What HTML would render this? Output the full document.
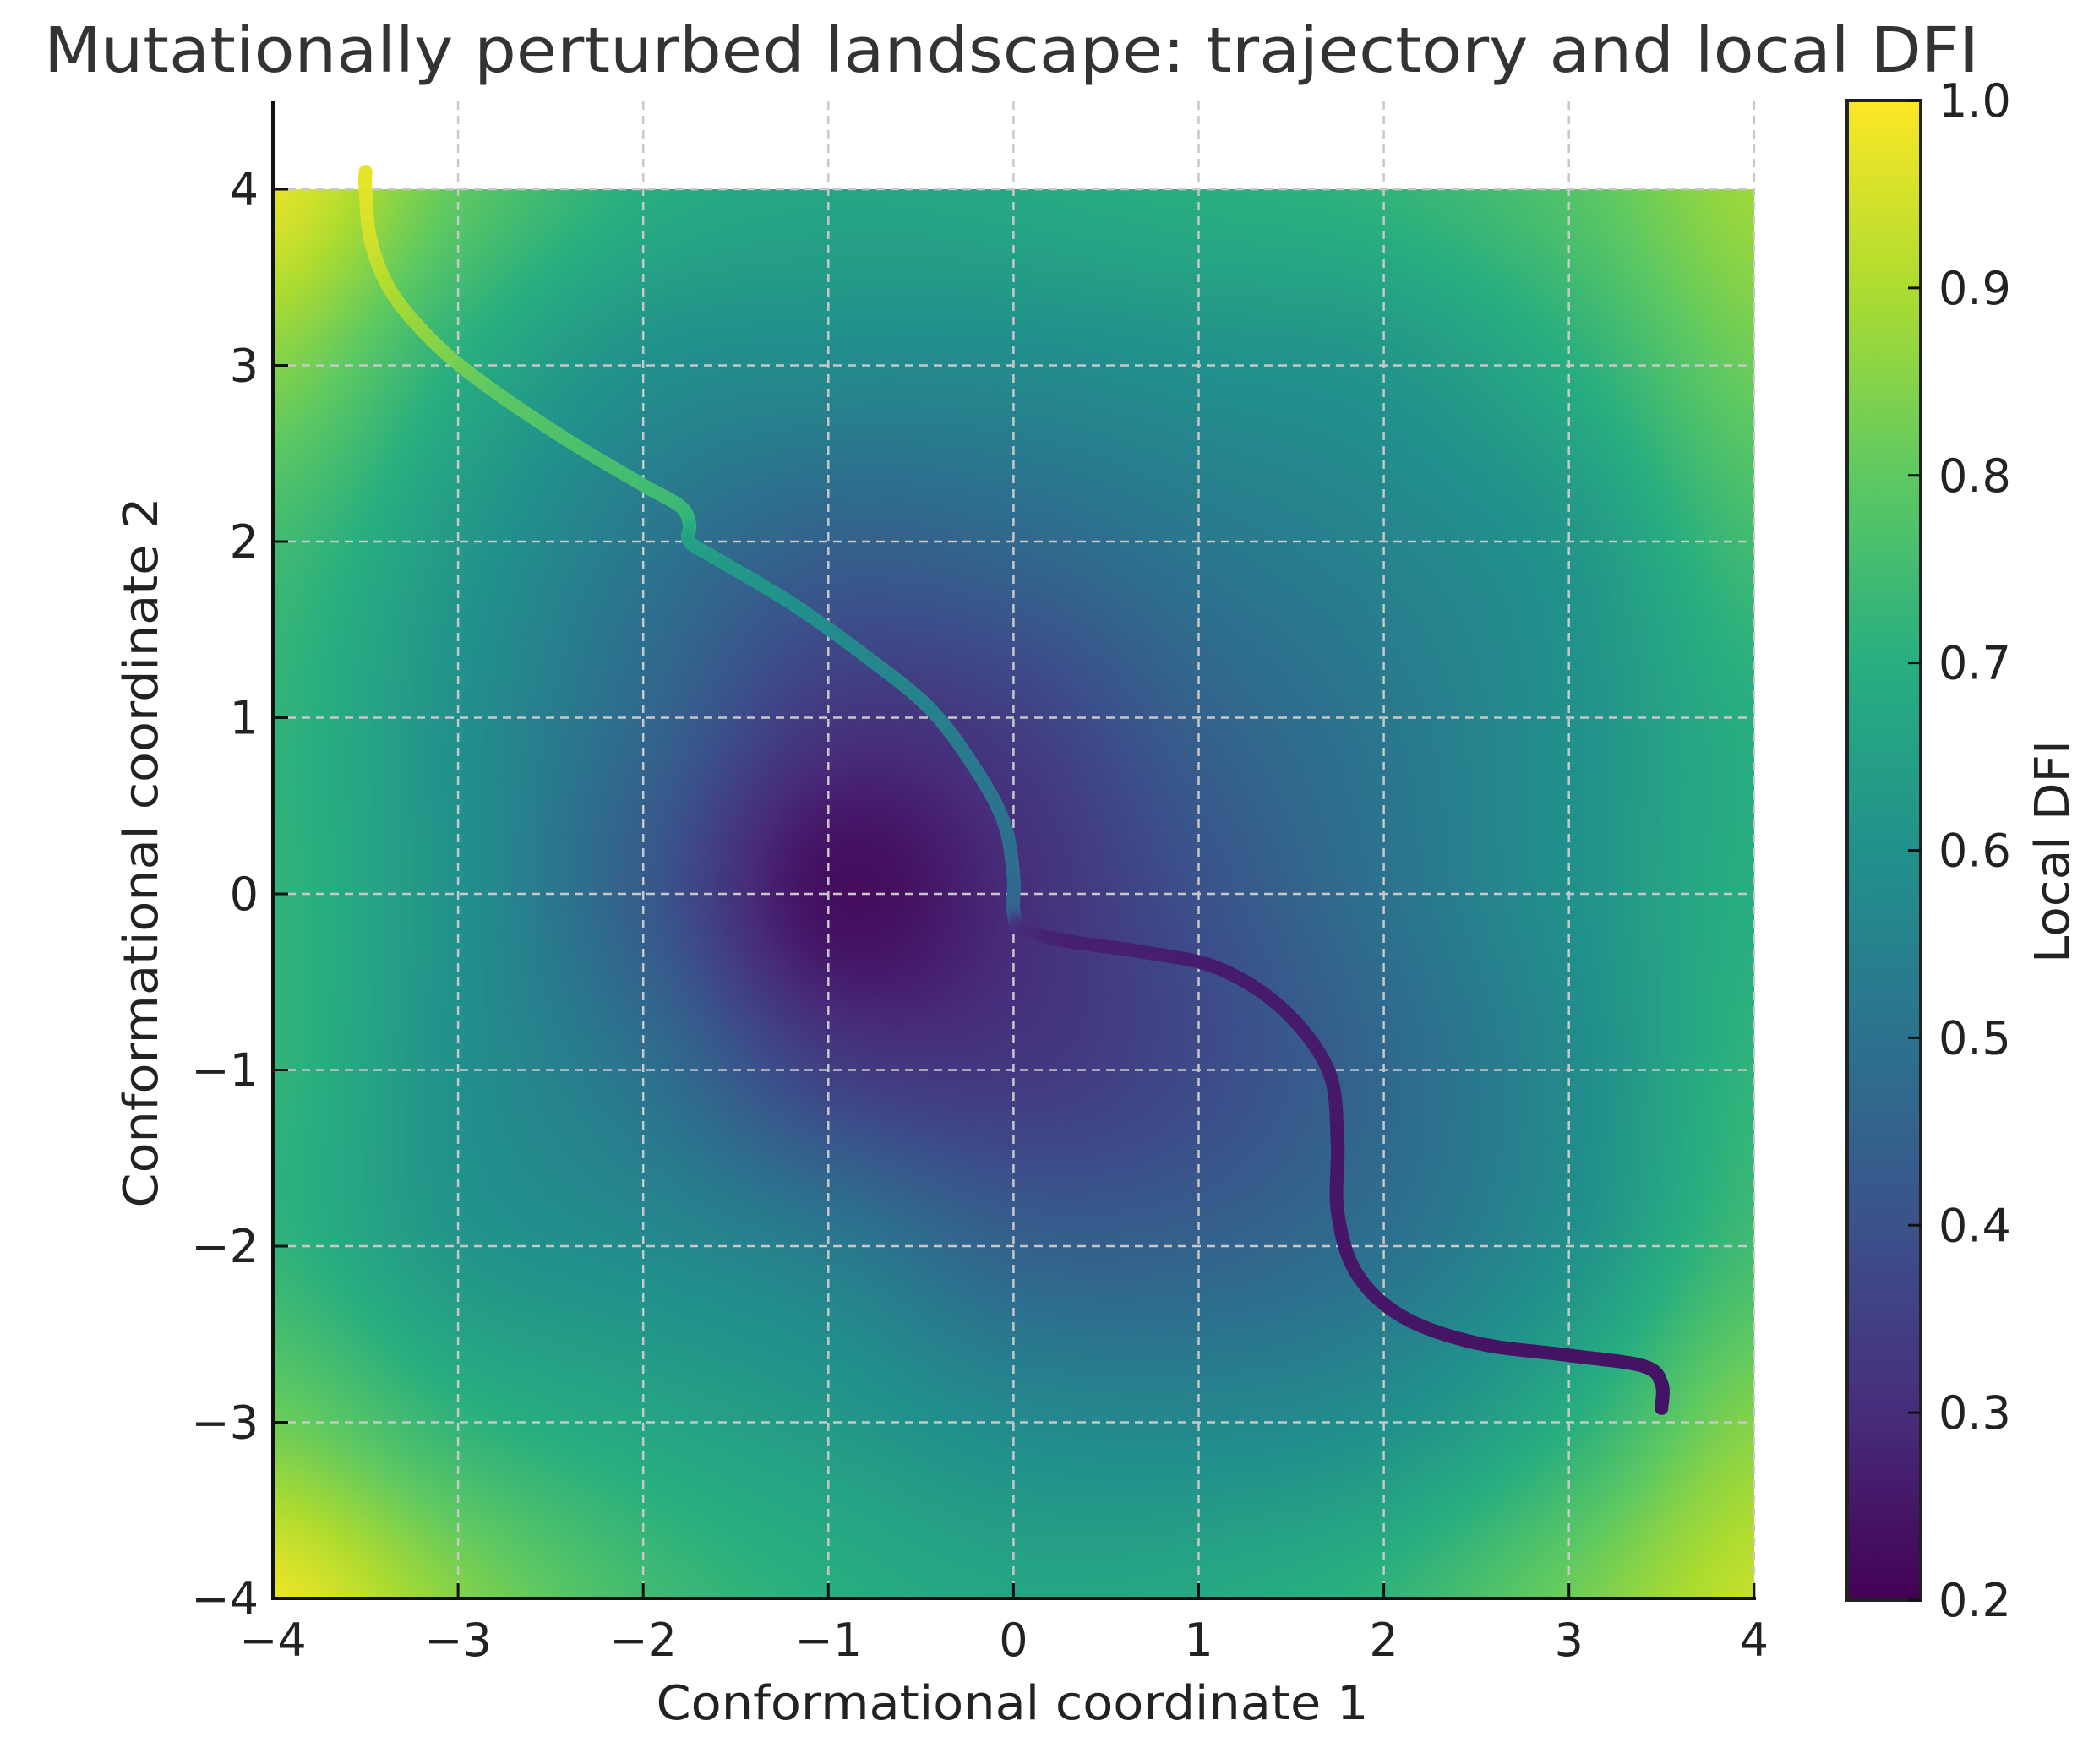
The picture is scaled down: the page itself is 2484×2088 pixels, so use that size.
<!DOCTYPE html>
<html><head><meta charset="utf-8"><style>
html,body{margin:0;padding:0;background:#fff;}
#wrap{position:relative;width:2484px;height:2088px;overflow:hidden;font-family:"DejaVu Sans","Liberation Sans",sans-serif;}
#hm{position:absolute;left:323px;top:224px;width:1753px;height:1668px;}
#svg{position:absolute;left:0;top:0;}
</style></head><body>
<div id="wrap">
<canvas id="hm" width="438" height="417"></canvas>
<svg id="svg" width="2484" height="2088" xmlns="http://www.w3.org/2000/svg">
<defs>
<linearGradient id="vir" x1="0" y1="1" x2="0" y2="0">
<stop offset="0" stop-color="#440154"/><stop offset="0.125" stop-color="#472d7b"/><stop offset="0.25" stop-color="#3b528b"/><stop offset="0.375" stop-color="#2c728e"/><stop offset="0.5" stop-color="#21918c"/><stop offset="0.625" stop-color="#28ae80"/><stop offset="0.75" stop-color="#5ec962"/><stop offset="0.875" stop-color="#addc30"/><stop offset="1" stop-color="#fde725"/>
</linearGradient>
</defs>
<text x="1197" y="85" font-size="74" fill="#333" text-anchor="middle" textLength="2290" lengthAdjust="spacingAndGlyphs">Mutationally perturbed landscape: trajectory and local DFI</text>
<g id="grid"></g>
<g id="traj"></g>
<g id="axes"></g>
<text x="1198" y="2035" font-size="56" fill="#222" text-anchor="middle" textLength="843" lengthAdjust="spacingAndGlyphs">Conformational coordinate 1</text>
<text transform="translate(186,1009) rotate(-90)" font-size="56" fill="#222" text-anchor="middle" textLength="841" lengthAdjust="spacingAndGlyphs">Conformational coordinate 2</text>
<rect x="2186" y="119" width="87" height="1775" fill="url(#vir)" stroke="#222" stroke-width="4"/>
<g id="cbar"></g>
<text transform="translate(2448,1008) rotate(-90)" font-size="56" fill="#222" text-anchor="middle" textLength="264" lengthAdjust="spacingAndGlyphs">Local DFI</text>
</svg>
</div>
<script>
// ---- data ----
const gridX = [-4,-3,-2,-1,0,1,2,3,4];
const gridY = [4,3,2,1,0,-1,-2,-3,-4];
const dfiRow_y4  = [0.97,0.80,0.70,0.67,0.68,0.70,0.72,0.78,0.88];
const dfiRow_y3  = [0.85,0.70,0.60,0.58,0.58,0.60,0.62,0.70,0.82];
const dfiRow_y2  = [0.75,0.63,0.52,0.45,0.47,0.52,0.56,0.62,0.75];
const dfiRow_y1  = [0.72,0.60,0.47,0.33,0.35,0.45,0.52,0.60,0.70];
const dfiRow_y0  = [0.72,0.60,0.43,0.23,0.30,0.40,0.50,0.60,0.70];
const dfiRow_ym1 = [0.72,0.60,0.50,0.35,0.33,0.38,0.47,0.58,0.72];
const dfiRow_ym2 = [0.72,0.62,0.58,0.53,0.45,0.45,0.50,0.60,0.75];
const dfiRow_ym3 = [0.82,0.72,0.67,0.63,0.58,0.57,0.60,0.70,0.85];
const dfiRow_ym4 = [0.98,0.85,0.75,0.70,0.67,0.68,0.72,0.82,0.93];
const trajX = [-3.5,-3.5,-3.47,-3.35,-3.1,-2.8,-2.4,-2.0,-1.8,-1.75,-1.75,-1.6,-1.2,-0.8,-0.45,-0.2,-0.05,0,0,0.05,0.3,0.7,1.1,1.45,1.7,1.75,1.75,1.85,2.1,2.5,3.0,3.4,3.5,3.5];
const trajY = [4.1,4.0,3.7,3.4,3.1,2.85,2.57,2.32,2.2,2.1,2.0,1.9,1.65,1.35,1.05,0.7,0.4,0.1,-0.1,-0.2,-0.27,-0.33,-0.42,-0.65,-1.0,-1.4,-1.8,-2.15,-2.4,-2.55,-2.62,-2.68,-2.78,-2.92];
const trajDFI = [0.97,0.97,0.95,0.9,0.85,0.8,0.77,0.75,0.74,0.72,0.66,0.64,0.6,0.57,0.55,0.52,0.5,0.48,0.46,0.3,0.27,0.27,0.26,0.26,0.26,0.25,0.25,0.25,0.25,0.24,0.24,0.24,0.24,0.24];
const xTicks = [-4,-3,-2,-1,0,1,2,3,4];
const yTicks = [-4,-3,-2,-1,0,1,2,3,4];
const cTicks = [0.2,0.3,0.4,0.5,0.6,0.7,0.8,0.9,1.0];
const vmin = 0.2, vmax = 1.0;

// ---- scales ----
const X = x => 323 + (x + 4) * 219.1;
const Y = y => 224 + (4 - y) * 208.5;
const CY = v => 1894 - (v - vmin) / (vmax - vmin) * 1775;
const stops = [[68,1,84],[71,45,123],[59,82,139],[44,114,142],[33,145,140],[40,174,128],[94,201,98],[173,220,48],[253,231,37]];
function vir(v){
  let t = Math.max(0, Math.min(1, (v - vmin) / (vmax - vmin))) * 8;
  let i = Math.min(7, Math.floor(t)), f = t - i;
  return stops[i].map((c,k)=>Math.round(c + (stops[i+1][k]-c)*f));
}
const NS='http://www.w3.org/2000/svg';
function el(tag, attrs, parent){const e=document.createElementNS(NS,tag);for(const k in attrs)e.setAttribute(k,attrs[k]);parent.appendChild(e);return e;}
function cr(p0,p1,p2,p3,t){return 0.5*((2*p1)+(-p0+p2)*t+(2*p0-5*p1+4*p2-p3)*t*t+(-p0+3*p1-3*p2+p3)*t*t*t);}

// ---- heatmap ----
const rows = [dfiRow_y4,dfiRow_y3,dfiRow_y2,dfiRow_y1,dfiRow_y0,dfiRow_ym1,dfiRow_ym2,dfiRow_ym3,dfiRow_ym4];
function g(r,c){r=Math.max(0,Math.min(8,r));c=Math.max(0,Math.min(8,c));return rows[r][c];}
function sample(x,y){
  const fc=(x-gridX[0]), fr=(gridY[0]-y);
  const c=Math.min(7,Math.floor(fc)), r=Math.min(7,Math.floor(fr));
  const tx=fc-c, ty=fr-r; const col=[];
  for(let k=-1;k<=2;k++) col.push(cr(g(r+k,c-1),g(r+k,c),g(r+k,c+1),g(r+k,c+2),tx));
  return cr(col[0],col[1],col[2],col[3],ty);
}
const cv=document.getElementById('hm'), ctx=cv.getContext('2d');
const W=cv.width,H=cv.height, img=ctx.createImageData(W,H);
for(let j=0;j<H;j++)for(let i=0;i<W;i++){
  const x=-4+8*(i+0.5)/W, y=4-8*(j+0.5)/H;
  const c=vir(sample(x,y)), o=(j*W+i)*4;
  img.data[o]=c[0];img.data[o+1]=c[1];img.data[o+2]=c[2];img.data[o+3]=255;
}
ctx.putImageData(img,0,0);

// ---- grid ----
const grid=document.getElementById('grid');
xTicks.forEach(t=>{ if(t===-4)return;
  const l=el('line',{x1:X(t),x2:X(t),y1:120,y2:1892,stroke:'#c8c8c8','stroke-width':2.5,'stroke-dasharray':'10,7'},grid);
  
  
});
yTicks.forEach(t=>{ if(t===-4)return;
  const l=el('line',{x1:323,x2:2076,y1:Y(t),y2:Y(t),stroke:'#c8c8c8','stroke-width':2.5,'stroke-dasharray':'10,7'},grid);
  
  
});

// ---- trajectory (Catmull-Rom smoothed) ----
const traj=document.getElementById('traj');
const n=trajX.length;
const gx=i=>trajX[Math.max(0,Math.min(n-1,i))], gy=i=>trajY[Math.max(0,Math.min(n-1,i))];
const SUB=8;
for(let i=0;i<n-1;i++){
  let px=X(trajX[i]), py=Y(trajY[i]);
  for(let s=1;s<=SUB;s++){
    const t=s/SUB;
    const qx=X(cr(gx(i-1),gx(i),gx(i+1),gx(i+2),t)), qy=Y(cr(gy(i-1),gy(i),gy(i+1),gy(i+2),t));
    const v=trajDFI[i]+(trajDFI[i+1]-trajDFI[i])*(t-0.5/SUB);
    const c=vir(v);
    const seg=el('line',{x1:px,y1:py,x2:qx,y2:qy,stroke:`rgb(${c})`,'stroke-width':16,'stroke-linecap':'round'},traj);
    
    
    px=qx;py=qy;
  }
}

// ---- axes ----
const axes=document.getElementById('axes');
el('line',{x1:323,x2:323,y1:120,y2:1894,stroke:'#111','stroke-width':4},axes);
el('line',{x1:321,x2:2078,y1:1892,y2:1892,stroke:'#111','stroke-width':4},axes);
xTicks.forEach(t=>{
  const tk=el('line',{x1:X(t),x2:X(t),y1:1892,y2:1874,stroke:'#111','stroke-width':3},axes);
  
  
  const lb=el('text',{x:X(t),y:1960,'font-size':54,fill:'#222','text-anchor':'middle'},axes);
  lb.textContent=(t<0?'\u2212'+(-t):String(t));
  
  
});
yTicks.forEach(t=>{
  const tk=el('line',{x1:323,x2:341,y1:Y(t),y2:Y(t),stroke:'#111','stroke-width':3},axes);
  
  
  const lb=el('text',{x:306,y:Y(t)+19,'font-size':54,fill:'#222','text-anchor':'end'},axes);
  lb.textContent=(t<0?'\u2212'+(-t):String(t));
  
  
});

// ---- colorbar ticks ----
const cb=document.getElementById('cbar');
cTicks.forEach(v=>{
  const tk=el('line',{x1:2273,x2:2258,y1:CY(v),y2:CY(v),stroke:'#111','stroke-width':3},cb);
  
  
  const lb=el('text',{x:2294,y:CY(v)+19,'font-size':54,fill:'#222'},cb);
  lb.textContent=v.toFixed(1);
  
  
});
</script>
</body></html>
